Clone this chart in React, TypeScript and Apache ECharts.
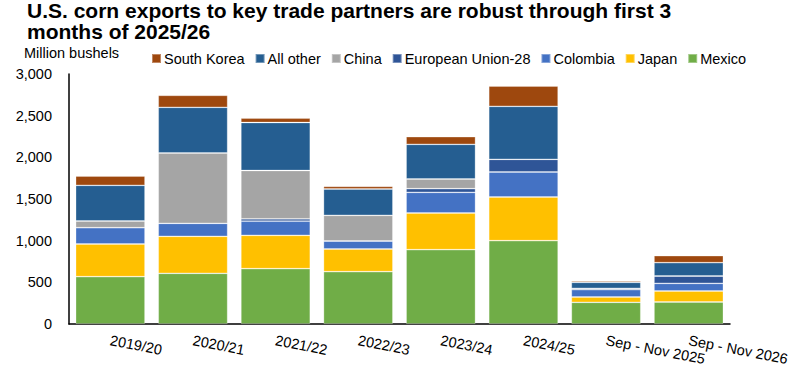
import React, { useEffect, useRef } from "react";
import * as echarts from "echarts";

const categories = ["2019/20", "2020/21", "2021/22", "2022/23", "2023/24", "2024/25", "Sep - Nov 2025", "Sep - Nov 2026"];

const mexico = [568, 608, 664, 628, 892, 1000, 260, 264];
const japan = [392, 444, 400, 272, 440, 524, 64, 132];
const colombia = [196, 156, 170, 96, 248, 300, 88, 92];
const europeanUnion = [0, 0, 28, 0, 44, 152, 16, 88];
const china = [80, 844, 580, 308, 116, 0, 0, 0];
const allOther = [428, 548, 576, 316, 416, 636, 72, 160];
const southKorea = [112, 144, 52, 32, 92, 244, 16, 84];

const yTicks = { min: 0, max: 3000, interval: 500 };

const seriesDefs = [
  { name: "Mexico", data: mexico, color: "#70AD47" },
  { name: "Japan", data: japan, color: "#FFC000" },
  { name: "Colombia", data: colombia, color: "#4472C4" },
  { name: "European Union-28", data: europeanUnion, color: "#2F5597" },
  { name: "China", data: china, color: "#A5A5A5" },
  { name: "All other", data: allOther, color: "#255E91" },
  { name: "South Korea", data: southKorea, color: "#9E480E" },
];

const legendOrder = ["South Korea", "All other", "China", "European Union-28", "Colombia", "Japan", "Mexico"];

const FONT = "'Liberation Sans', Arial, sans-serif";

export default function App() {
  const ref = useRef<HTMLDivElement>(null);
  useEffect(() => {
    if (!ref.current) return;
    const chart = echarts.init(ref.current, null, { renderer: "svg" });
    chart.setOption({
      animation: false,
      backgroundColor: "#ffffff",
      textStyle: { fontFamily: FONT },
      title: {
        text: "U.S. corn exports to key trade partners are robust through first 3\nmonths of 2025/26",
        left: 27,
        top: 0,
        padding: [0, 0, 0, 0],
        textStyle: { fontFamily: FONT, fontWeight: "bold", fontSize: 21, lineHeight: 21, color: "#000" },
      },
      graphic: [
        {
          type: "text",
          left: 24,
          top: 45,
          style: { text: "Million bushels", font: `14.5px ${FONT}`, fill: "#000" },
        },
      ],
      legend: {
        data: legendOrder,
        left: 146,
        top: 46,
        icon: "rect",
        itemWidth: 9,
        itemHeight: 9,
        itemGap: 10,
        textStyle: { fontFamily: FONT, fontSize: 14.5, color: "#000", padding: [0, 0, 0, -2] },
      },
      grid: { left: 69, right: 65, top: 74, bottom: 49, containLabel: false },
      xAxis: {
        type: "category",
        data: categories,
        axisLine: { show: true, lineStyle: { color: "#000", width: 1.5 } },
        axisTick: { show: false },
        axisLabel: { rotate: -11, margin: 16, fontFamily: FONT, fontSize: 14.5, color: "#000", interval: 0 },
      },
      yAxis: {
        type: "value",
        min: yTicks.min,
        max: yTicks.max,
        interval: yTicks.interval,
        axisLine: { show: true, lineStyle: { color: "#000", width: 1.5 } },
        axisTick: { show: false },
        splitLine: { show: false },
        axisLabel: {
          margin: 17,
          fontFamily: FONT,
          fontSize: 14.5,
          color: "#000",
          formatter: (v: number) => v.toLocaleString("en-US"),
        },
      },
      series: seriesDefs.map((s) => ({
        name: s.name,
        type: "bar",
        stack: "total",
        data: s.data,
        barCategoryGap: "16%",
        itemStyle: { color: s.color, borderColor: "rgba(255,255,255,0.35)", borderWidth: 0.8 },
      })),
    });
    return () => chart.dispose();
  }, []);
  return <div ref={ref} style={{ width: 795, height: 373, position: "absolute", left: 0, top: 0 }} />;
}
